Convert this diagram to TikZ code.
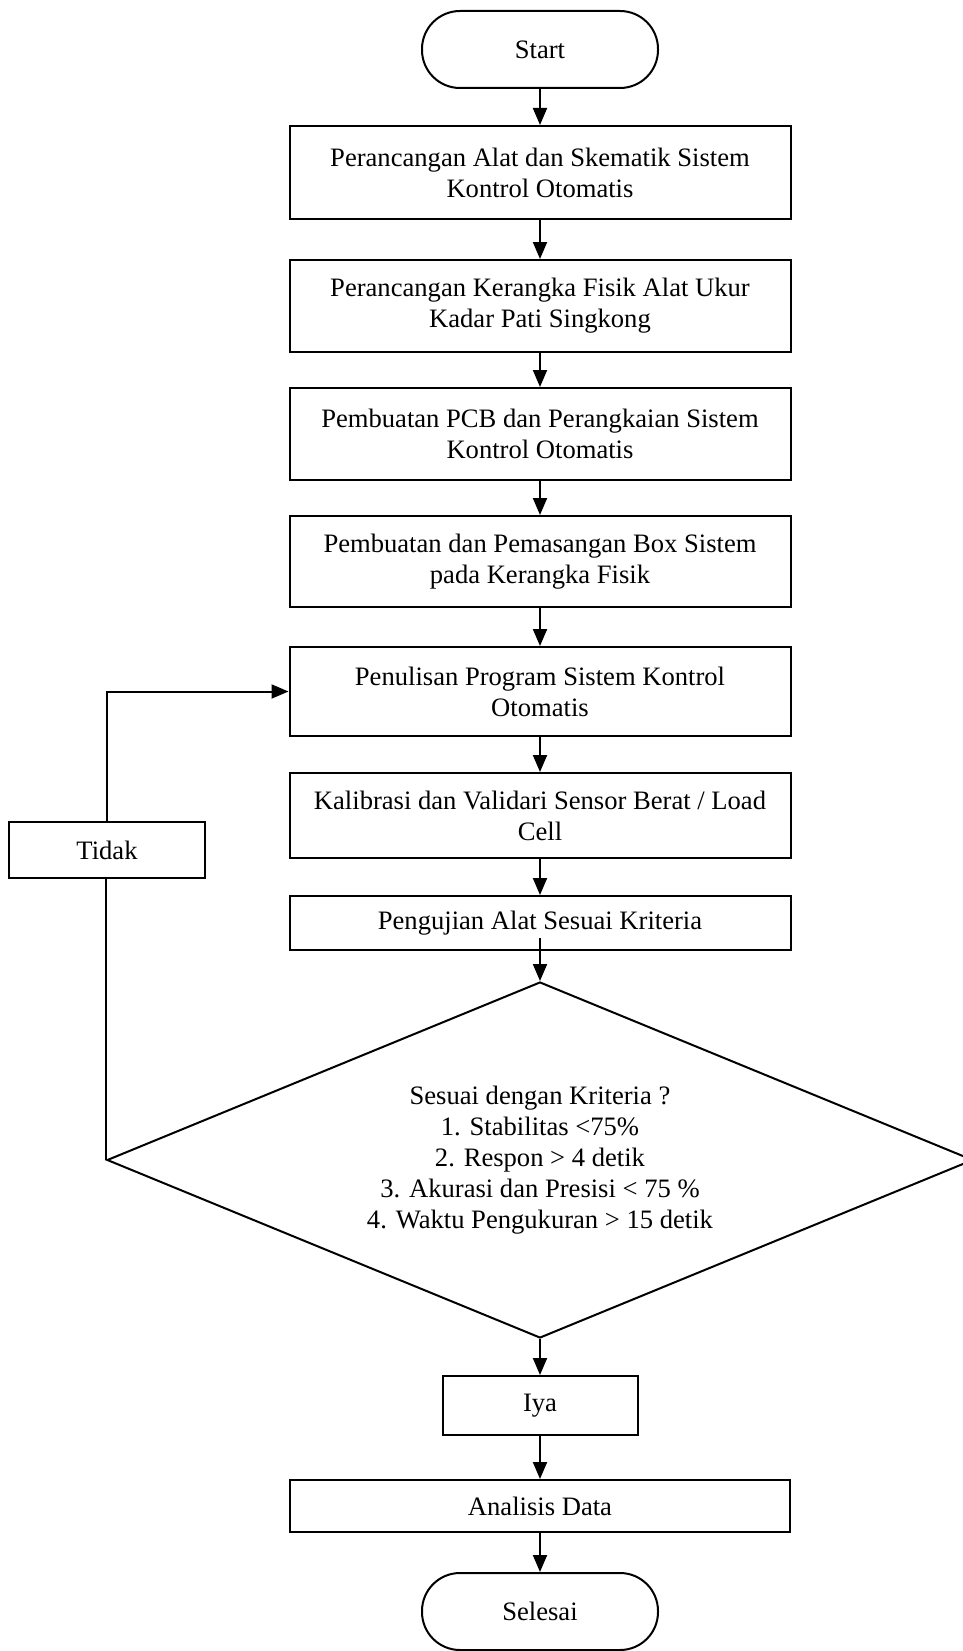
\documentclass[tikz,border=0pt]{standalone}
\usepackage{fontspec}
\setmainfont{Liberation Serif}
\usetikzlibrary{arrows.meta,shapes.geometric}

\begin{document}
\begin{tikzpicture}[x=1pt,y=-1pt,
  font=\fontsize{26.6}{31}\selectfont,
  every node/.style={inner sep=0pt,align=center},
  procbox/.style={draw,line width=2pt,rectangle,minimum width=#1},
  procbox/.default=501pt,
  terminal/.style={draw,line width=2pt,rectangle,rounded corners=38pt,
    minimum width=236pt,minimum height=77pt},
  decision/.style={draw,line width=2pt,diamond,minimum width=866pt,minimum height=356pt},
  flow/.style={line width=2pt,-{Triangle[length=17pt,width=14pt]}},
  plain/.style={line width=2pt}]

\clip (0,0) rectangle (963,1651);

% terminals, process steps and the decision
\node[terminal] (start) at (540,49.5) {Start};
\node[procbox,minimum height=93pt] (b1) at (540,172.5)
  {Perancangan Alat dan Skematik Sistem\\Kontrol Otomatis};
\node[procbox,minimum height=92pt] (b2) at (540,306)
  {Perancangan Kerangka Fisik Alat Ukur\\Kadar Pati Singkong};
\node[procbox,minimum height=92pt] (b3) at (540,434)
  {Pembuatan PCB dan Perangkaian Sistem\\Kontrol Otomatis};
\node[procbox,minimum height=91pt] (b4) at (540,561.5)
  {Pembuatan dan Pemasangan Box Sistem\\pada Kerangka Fisik};
\node[procbox,minimum height=89pt] (b5) at (540,691.5)
  {Penulisan Program Sistem Kontrol\\Otomatis};
\node[procbox,minimum height=85pt] (b6) at (540,815.5)
  {Kalibrasi dan Validari Sensor Berat / Load\\Cell};
\node[procbox,minimum height=54pt] (b7) at (540,923)
  {Pengujian Alat Sesuai Kriteria};
\node[procbox=196pt,minimum height=56pt] (tidak) at (107,850) {Tidak};
\node[decision] (dia) at (540,1160) {};
\node (diatext) at (dia.center)
  {Sesuai dengan Kriteria ?\\1. Stabilitas <75\%\\2. Respon > 4 detik\\
   3. Akurasi dan Presisi < 75 \%\\4. Waktu Pengukuran > 15 detik};
\node[procbox=195pt,minimum height=59pt] (iya) at (540,1405.5) {Iya};
\node[procbox=500pt,minimum height=52pt] (ana) at (540,1506) {Analisis Data};
\node[terminal] (stop) at (540,1611.5) {Selesai};

% main flow
\draw[flow] (start) -- (b1);
\draw[flow] (b1) -- (b2);
\draw[flow] (b2) -- (b3);
\draw[flow] (b3) -- (b4);
\draw[flow] (b4) -- (b5);
\draw[flow] (b5) -- (b6);
\draw[flow] (b6) -- (b7);
\draw[flow] ([yshift=13pt]b7.south) -- (dia.north);
\draw[flow] (dia.south) -- (iya);
\draw[flow] (iya) -- (ana);
\draw[flow] (ana) -- (stop);

% loop back when the criteria are not met
\draw[plain] (dia.west) -- (dia.west |- tidak.south);
\draw[flow] (tidak.north) |- (b5.west);
\end{tikzpicture}
\end{document}
